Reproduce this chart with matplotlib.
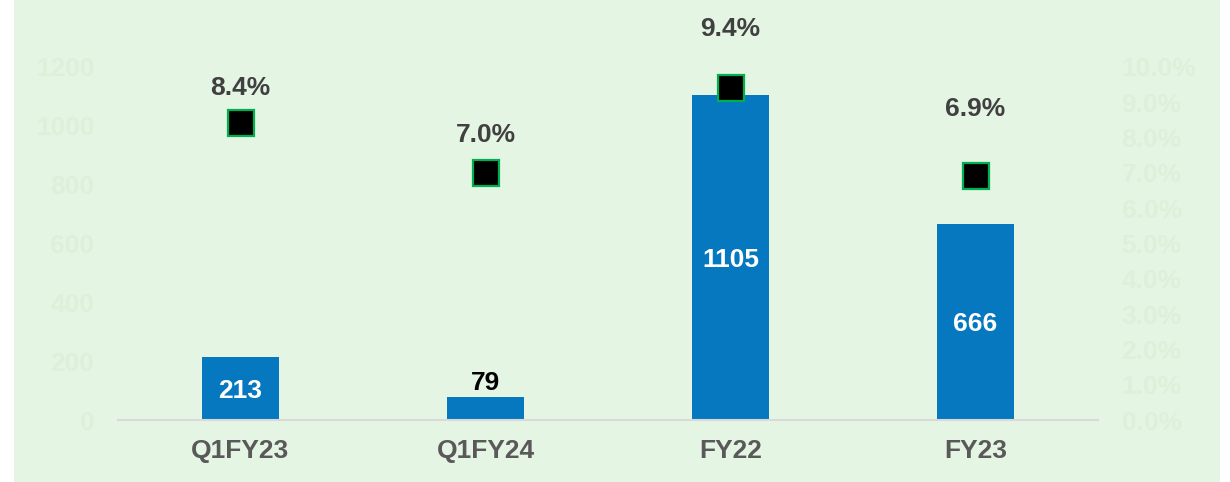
import matplotlib
matplotlib.use("Agg")
import matplotlib.pyplot as plt
from matplotlib.patches import Rectangle
from matplotlib.ticker import FuncFormatter

categories = ["Q1FY23", "Q1FY24", "FY22", "FY23"]
bar_values = [213, 79, 1105, 666]
pct_values = [8.4, 7.0, 9.4, 6.9]
left_ticks = [0, 200, 400, 600, 800, 1000, 1200]
right_ticks = [0, 1, 2, 3, 4, 5, 6, 7, 8, 9, 10]

# style
pct_label_offsets = [27, 29, 44, 50]  # points above marker
bar_label_inside = [True, False, True, True]

plt.rcParams['font.family'] = ['Liberation Sans', 'DejaVu Sans']
FS = 19
BG = '#E5F5E3'
TICKC = '#DDF0D9'

W, H = 1230, 482
fig = plt.figure(figsize=(W / 100, H / 100), dpi=100)
fig.patch.set_facecolor('white')
fig.patches.append(Rectangle((14 / W, 0), (1220 - 14) / W, 1, transform=fig.transFigure,
                             facecolor=BG, edgecolor='none', zorder=-10))

ax = fig.add_axes([118 / W, 62 / H, (1098 - 118) / W, (420 - 66.7) / H])
ax.set_facecolor('none')
x = list(range(len(categories)))
bars = ax.bar(x, bar_values, width=0.314, color='#0578C0', zorder=2)
ax.set_xlim(-0.5, len(categories) - 0.5)
ax.set_ylim(0, 1200)
ax.set_yticks(left_ticks)
ax.set_xticks(x)
ax.set_xticklabels(categories, fontsize=FS, fontweight='bold', color='#595959')
for s in ['top', 'right', 'left']:
    ax.spines[s].set_visible(False)
ax.spines['bottom'].set_color('#D9D9D9')
ax.spines['bottom'].set_linewidth(1.5)
ax.tick_params(axis='x', length=0, pad=14)
ax.tick_params(axis='y', length=0, pad=17, labelsize=FS, labelcolor=TICKC)
for lab in ax.get_yticklabels():
    lab.set_fontweight('bold')

for xi, v, inside in zip(x, bar_values, bar_label_inside):
    if inside:
        ax.text(xi, v / 2, str(v), ha='center', va='center_baseline', fontsize=FS,
                fontweight='bold', color='white', zorder=4)
    else:
        ax.annotate(str(v), (xi, v), xytext=(0, 12), textcoords='offset points',
                    ha='center', va='center_baseline', fontsize=FS, fontweight='bold',
                    color='black')

ax2 = ax.twinx()
ax2.set_ylim(0, 10)
ax2.set_yticks(right_ticks)
ax2.yaxis.set_major_formatter(FuncFormatter(lambda v, p: f"{v:.1f}%"))
for s in ['top', 'right', 'left', 'bottom']:
    ax2.spines[s].set_visible(False)
ax2.tick_params(axis='y', length=0, pad=17, labelsize=FS, labelcolor=TICKC)
for lab in ax2.get_yticklabels():
    lab.set_fontweight('bold')
ax2.plot(x, pct_values, linestyle='none', marker='s', markersize=19,
         markerfacecolor='black', markeredgecolor='#00B050', markeredgewidth=1.6, zorder=5,
         clip_on=False)
for xi, v, off in zip(x, pct_values, pct_label_offsets):
    ax2.annotate(f"{v:.1f}%", (xi, v), xytext=(0, off), textcoords='offset points',
                 ha='center', va='center_baseline', fontsize=FS, fontweight='bold',
                 color='#404040')

fig.savefig('out.png', dpi=100, facecolor='white')
